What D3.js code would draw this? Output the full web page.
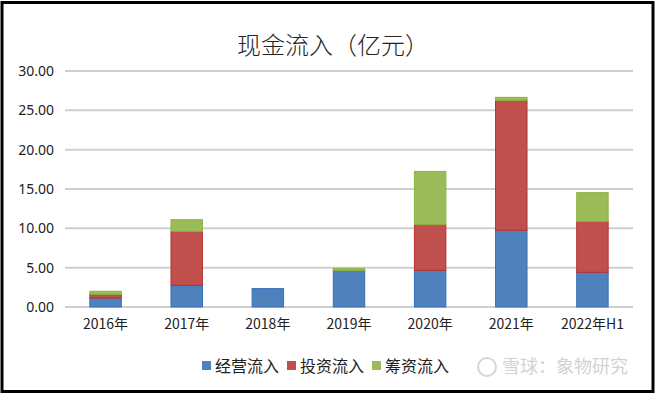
<!DOCTYPE html>
<html>
<head>
<meta charset="utf-8">
<script src="https://cdn.jsdelivr.net/npm/d3@7"></script>
<style>
  body { margin: 0; background: #fff; }
  svg text { font-family: "Noto Sans CJK SC", "Noto Sans", sans-serif; }
</style>
</head>
<body>
<div id="chart"></div>
<script>
const categories = ['2016年', '2017年', '2018年', '2019年', '2020年', '2021年', '2022年H1'];
const operating = [1.14, 2.76, 2.34, 4.66, 4.66, 9.75, 4.41];
const investing = [0.47, 6.86, 0, 0, 5.84, 16.51, 6.48];
const financing = [0.39, 1.48, 0, 0.26, 6.74, 0.39, 3.65];
const yTicks = [0, 5, 10, 15, 20, 25, 30];

const seriesNames = ['经营流入', '投资流入', '筹资流入'];
const fills = ['#4F81BD', '#C0504D', '#9BBB59'];
const strokes = ['#3470BB', '#B8312E', '#8DB33F'];

const W = 659, H = 396;
const m = {top: 71, right: 26, bottom: 89, left: 65};

const rows = categories.map((c, i) => ({
    cat: c,
    '经营流入': operating[i],
    '投资流入': investing[i],
    '筹资流入': financing[i]
}));
const stacked = d3.stack().keys(seriesNames)(rows);

const svg = d3.select('#chart').append('svg')
    .attr('width', W)
    .attr('height', H);

// outer frame
svg.append('rect')
    .attr('x', 2).attr('y', 2.5)
    .attr('width', 651).attr('height', 389)
    .attr('fill', '#fff')
    .attr('stroke', '#000')
    .attr('stroke-width', 3);

const x = d3.scaleBand().domain(categories).range([m.left, W - m.right]).paddingInner(0.6).paddingOuter(0.3);
const y = d3.scaleLinear().domain([0, 30]).range([H - m.bottom, m.top]);

svg.append('text')
    .attr('x', 333).attr('y', 54)
    .attr('text-anchor', 'middle')
    .style('font-size', '24px')
    .style('font-weight', 300)
    .style('fill', '#222')
    .text('现金流入（亿元）');

// grid
svg.append('g')
    .selectAll('line')
    .data(yTicks)
    .enter()
    .append('line')
    .attr('x1', m.left).attr('x2', W - m.right)
    .attr('y1', d => y(d)).attr('y2', d => y(d))
    .attr('stroke', '#d0d0d0')
    .attr('stroke-width', 2);

// y axis labels
const yAxis = d3.axisLeft(y).tickValues(yTicks).tickFormat(d3.format('.2f')).tickSize(0).tickPadding(11);
svg.append('g')
    .attr('transform', `translate(${m.left},0)`)
    .call(yAxis)
    .call(g => g.select('.domain').remove())
    .selectAll('text')
    .style('font-size', '14px')
    .style('fill', '#222')
    .style('font-family', '"Noto Sans", sans-serif');

// x axis labels
const xAxis = d3.axisBottom(x).tickSize(0).tickPadding(12);
svg.append('g')
    .attr('transform', `translate(0,${y(0)})`)
    .call(xAxis)
    .call(g => g.select('.domain').remove())
    .selectAll('text')
    .style('font-size', '14px')
    .style('fill', '#222');

// bars
svg.append('g')
    .selectAll('g')
    .data(stacked)
    .enter()
    .append('g')
    .attr('fill', (d, i) => fills[i])
    .attr('stroke', (d, i) => strokes[i])
    .selectAll('rect')
    .data(d => d.filter(p => p[1] - p[0] > 0))
    .enter()
    .append('rect')
    .attr('x', d => x(d.data.cat) + 0.5)
    .attr('y', d => y(d[1]))
    .attr('width', x.bandwidth() - 1)
    .attr('height', d => y(d[0]) - y(d[1]))
    .attr('stroke-width', 1);

// legend
const legendX = [202, 287, 372];
const legend = svg.append('g')
    .selectAll('g')
    .data(seriesNames)
    .enter()
    .append('g')
    .attr('transform', (d, i) => `translate(${legendX[i]},366)`);
legend.append('rect')
    .attr('x', 0).attr('y', -5)
    .attr('width', 9).attr('height', 9)
    .attr('fill', (d, i) => fills[i]);
legend.append('text')
    .attr('x', 13).attr('y', 0)
    .attr('dy', '0.35em')
    .style('font-size', '16px')
    .style('fill', '#222')
    .text(d => d);

// watermark
const wm = svg.append('g').attr('transform', 'translate(487,367)').attr('opacity', 0.6);
wm.append('circle').attr('r', 9).attr('fill', 'none').attr('stroke', '#bbb').attr('stroke-width', 2);
wm.append('text')
    .attr('x', 15).attr('dy', '0.35em')
    .style('font-size', '18px')
    .style('fill', '#b5b5b5')
    .text('雪球：象物研究');
</script>
</body>
</html>
